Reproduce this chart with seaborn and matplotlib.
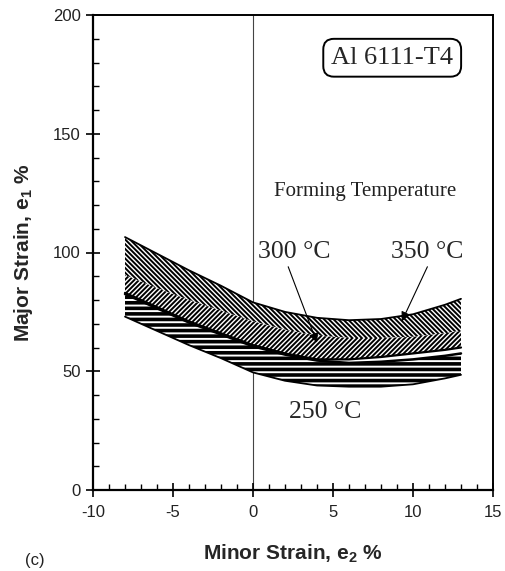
import numpy as np
import pandas as pd
import matplotlib
matplotlib.use("Agg")
import matplotlib.pyplot as plt
import seaborn as sns

# ---- data ----
minor_strain = [-8, -6, -4, -2, 0, 2, 4, 6, 8, 10, 12, 13]
upper_350 = [106.5, 99.5, 92.5, 86, 79, 75, 72.5, 71.5, 72, 74, 78, 80.5]
split_350_300 = [90.5, 85, 80, 75.5, 71, 67.5, 65, 64, 64, 64.5, 66, 67]
lower_300 = [83, 77, 71, 66, 61, 57.5, 55, 55, 56, 57.5, 59, 60]
upper_250 = [82.5, 76.5, 70.5, 65.5, 60.5, 57, 54.5, 53.5, 54, 55, 56.5, 57.5]
lower_250 = [73, 67, 61, 55.5, 49.5, 46, 44, 43.5, 43.5, 44.5, 47, 48.5]

x_ticks = [-10, -5, 0, 5, 10, 15]
y_ticks = [0, 50, 100, 150, 200]

sns.set_theme(style="ticks")
plt.rcParams["font.family"] = ["Liberation Sans", "DejaVu Sans"]
plt.rcParams["axes.unicode_minus"] = False
plt.rcParams["mathtext.fontset"] = "custom"
plt.rcParams["mathtext.rm"] = "Liberation Sans"
plt.rcParams["mathtext.bf"] = "Liberation Sans:bold"

fig = plt.figure(figsize=(5.05, 5.71), dpi=100)
ax = fig.add_axes([93 / 505, 1 - 490 / 571, 400 / 505, 475 / 571])

df = pd.DataFrame({
    "x": minor_strain,
    "u350": upper_350,
    "s": split_350_300,
    "l300": lower_300,
    "u250": upper_250,
    "l250": lower_250,
})


def hatched(y1, y2, hatch, hlw):
    with plt.rc_context({"hatch.linewidth": hlw, "hatch.color": "black"}):
        pc = ax.fill_between(df["x"], df[y1], df[y2], facecolor="white",
                             edgecolor="black", hatch=hatch, linewidth=0)
    if hasattr(pc, "set_hatch_linewidth"):
        pc.set_hatch_linewidth(hlw)
    return pc


hatched("l250", "u250", "---", 2.6)
hatched("s", "u350", "\\" * 7, 1.4)
hatched("l300", "s", "/" * 7, 1.4)

for col, lw in [("u350", 1.3), ("l300", 1.6), ("u250", 1.8), ("l250", 1.3)]:
    sns.lineplot(data=df, x="x", y=col, ax=ax, color="black", lw=lw)

ax.axvline(0, color="#444444", lw=0.8, zorder=0.5)

ax.set_xlim(-10, 15)
ax.set_ylim(0, 200)
ax.set_xticks(x_ticks)
ax.set_yticks(y_ticks)
ax.set_xticks(np.arange(-10, 16, 1), minor=True)
ax.set_yticks(np.arange(0, 201, 10), minor=True)
ax.tick_params(axis="both", which="major", direction="inout", length=9.5,
               width=1.2, labelsize=12, colors="black", labelcolor="#222222")
ax.tick_params(axis="both", which="minor", direction="in", length=4,
               width=1.0, colors="black")
ax.tick_params(axis="x", which="major", pad=6)
ax.tick_params(axis="y", which="major", pad=4)
for side in ["left", "bottom"]:
    ax.spines[side].set_linewidth(1.6)
for side in ["top", "right"]:
    ax.spines[side].set_visible(True)
    ax.spines[side].set_linewidth(1.4)
for sp in ax.spines.values():
    sp.set_color("black")

ax.set_xlabel("Minor Strain, e$_{\\mathbf{2}}$ %", fontsize=15,
              fontweight="bold", labelpad=16)
ax.set_ylabel("Major Strain, e$_{\\mathbf{1}}$ %", fontsize=15,
              fontweight="bold", labelpad=13)

serif = ["Liberation Serif", "DejaVu Serif"]
ax.text(8.7, 182, "Al 6111-T4", family=serif, fontsize=19, ha="center",
        va="center",
        bbox=dict(boxstyle="round,pad=0.3,rounding_size=0.4", fc="white",
                  ec="black", lw=1.4))
ax.text(7.0, 125.5, "Forming Temperature", family=serif, fontsize=15,
        ha="center", va="center", color="#222222")
ax.text(2.6, 100, "300 °C", family=serif, fontsize=18.5, ha="center",
        va="center")
ax.text(10.9, 100, "350 °C", family=serif, fontsize=18.5, ha="center",
        va="center")
ax.text(4.5, 33, "250 °C", family=serif, fontsize=18.5, ha="center",
        va="center")

arrow = dict(arrowstyle="-|>", lw=0.8, color="black", mutation_scale=14,
             shrinkA=0, shrinkB=0)
ax.annotate("", xy=(4.0, 62), xytext=(2.2, 94), arrowprops=arrow)
ax.annotate("", xy=(9.3, 71), xytext=(10.9, 94), arrowprops=arrow)

fig.text(25 / 505, 1 - 560 / 571, "(c)", fontsize=12, ha="left", va="center",
         color="#222222")

fig.savefig("out.png", dpi=100)
